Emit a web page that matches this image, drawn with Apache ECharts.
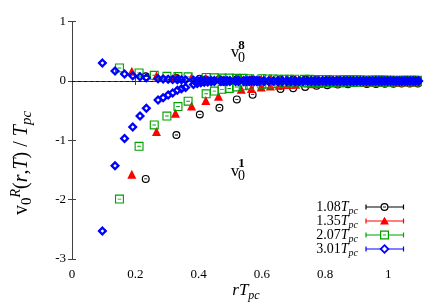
<!DOCTYPE html>
<html><head><meta charset="utf-8">
<script src="https://cdn.jsdelivr.net/npm/echarts@6/dist/echarts.min.js"></script>
<style>html,body{margin:0;padding:0;background:#fff}#c{width:436px;height:305px}</style>
</head><body><div id="c"></div>
<script>
// ---- data ----
const legendNames = ['1.08', '1.35', '2.07', '3.01'];
const xTickValues = [0, 0.2, 0.4, 0.6, 0.8, 1];
const yTickValues = [1, 0, -1, -2, -3];

// 1.08 Tpc (black)
const blackX = [0.233,0.330,0.404,0.466,0.521,0.571,0.659,0.699,0.737,0.773,0.807,0.840,0.872,0.932,0.961,0.989,1.016,1.042,1.068,1.093];
const blackV1 = [-1.65,-0.91,-0.565,-0.45,-0.31,-0.23,-0.135,-0.12,-0.10,-0.08,-0.07,-0.06,-0.055,-0.05,-0.05,-0.045,-0.045,-0.04,-0.04,-0.04];
const blackV8 = [0.08,0.05,0.04,0.03,0.03,0.025,0.02,0.02,0.02,0.015,0.015,0.015,0.01,0.01,0.01,0.01,0.01,0.01,0.01,0.01];

// 1.35 Tpc (red)
const redX = [0.189,0.267,0.327,0.378,0.423,0.463,0.535,0.567,0.598,0.627,0.655,0.681,0.707,0.756,0.779,0.802,0.824,0.845,0.866,0.886,0.926,0.945,0.964,0.982,1.018,1.035,1.052,1.069,1.086];
const redV1 = [-1.57,-0.85,-0.545,-0.42,-0.33,-0.255,-0.14,-0.125,-0.10,-0.085,-0.07,-0.06,-0.055,-0.045,-0.04,-0.035,-0.035,-0.03,-0.03,-0.025,-0.025,-0.02,-0.02,-0.02,-0.02,-0.018,-0.018,-0.016,-0.016];
const redV8 = [0.165,0.09,0.07,0.06,0.05,0.045,0.04,0.035,0.035,0.03,0.03,0.03,0.025,0.025,0.025,0.02,0.02,0.02,0.02,0.02,0.02,0.018,0.018,0.016,0.016,0.015,0.015,0.015,0.015];

// 2.07 Tpc (green)
const greenX = [0.150,0.212,0.260,0.300,0.335,0.367,0.424,0.450,0.474,0.497,0.520,0.541,0.561,0.600,0.618,0.636,0.654,0.671,0.687,0.704,0.735,0.750,0.765,0.779,0.808,0.822,0.849,0.862,0.875,0.887,0.900,0.912,0.925,0.949,0.960,0.972,0.984,0.995,1.006,1.017,1.039,1.050,1.061,1.071,1.082,1.092];
const greenV1 = [-1.99,-1.10,-0.74,-0.59,-0.43,-0.34,-0.215,-0.17,-0.14,-0.125,-0.10,-0.08,-0.07,-0.055,-0.05,-0.045,-0.04,-0.04,-0.035,-0.035,-0.03,-0.03,-0.03,-0.028,-0.025,-0.025,-0.022,-0.022,-0.02,-0.02,-0.02,-0.018,-0.018,-0.018,-0.016,-0.016,-0.016,-0.015,-0.015,-0.015,-0.014,-0.014,-0.013,-0.013,-0.012,-0.012];
const greenV8 = [0.22,0.137,0.097,0.08,0.075,0.07,0.06,0.055,0.05,0.05,0.045,0.045,0.04,0.04,0.035,0.035,0.03,0.03,0.03,0.03,0.028,0.028,0.025,0.025,0.025,0.022,0.022,0.02,0.02,0.02,0.02,0.018,0.018,0.018,0.016,0.016,0.016,0.015,0.015,0.015,0.014,0.014,0.013,0.013,0.012,0.012];

// 3.01 Tpc (blue)
const blueX = [0.096,0.136,0.166,0.192,0.215,0.235,0.272,0.288,0.304,0.318,0.333,0.346,0.359,0.384,0.396,0.407,0.418,0.429,0.440,0.450,
  0.470,0.480,0.490,0.499,0.517,0.526,0.543,0.552,0.560,0.568,0.576,0.584,0.592,
  0.607,0.622,0.637,0.651,0.665,0.679,0.692,0.705,0.718,0.731,0.744,0.756,0.768,0.780,0.792,0.803,0.815,0.826,0.837,0.848,
  0.859,0.869,0.880,0.890,0.901,0.911,0.921,0.931,0.941,0.950,0.960,0.970,0.979,0.988,0.998,1.007,1.016,1.025,1.034,1.043,
  1.052,1.060,1.069,1.078,1.086,1.095];
const blueV1 = [-2.53,-1.43,-0.97,-0.775,-0.59,-0.46,-0.32,-0.28,-0.235,-0.20,-0.155,-0.13,-0.11,-0.06,-0.04,-0.03,-0.02,-0.015,-0.012,-0.01,
  -0.01,-0.01,-0.01,-0.008,-0.008,-0.008,-0.008,-0.008,-0.007,-0.007,-0.007,-0.007,-0.006,
  -0.006,-0.006,-0.006,-0.006,-0.006,-0.006,-0.006,-0.006,-0.006,-0.006,-0.005,-0.005,-0.005,-0.005,-0.005,-0.005,-0.005,-0.005,-0.005,-0.005,
  -0.005,-0.005,-0.005,-0.005,-0.005,-0.005,-0.005,-0.005,-0.005,-0.005,-0.004,-0.004,-0.004,-0.004,-0.004,-0.004,-0.004,-0.004,-0.004,-0.004,
  -0.004,-0.004,-0.004,-0.004,-0.004,-0.004];
const blueV8 = [0.305,0.17,0.12,0.09,0.07,0.055,0.04,0.035,0.03,0.025,0.02,0.02,0.018,0.015,0.015,0.012,0.012,0.01,0.01,0.01,
  0.01,0.01,0.009,0.009,0.008,0.008,0.008,0.008,0.007,0.007,0.007,0.007,0.007,
  0.006,0.006,0.006,0.006,0.006,0.006,0.006,0.006,0.006,0.006,0.005,0.005,0.005,0.005,0.005,0.005,0.005,0.005,0.005,0.005,
  0.005,0.005,0.005,0.005,0.005,0.005,0.005,0.005,0.005,0.005,0.004,0.004,0.004,0.004,0.004,0.004,0.004,0.004,0.004,0.004,
  0.004,0.004,0.004,0.004,0.004,0.004];

// ---- styling ----
const SERIF = '"Liberation Serif", "DejaVu Serif", serif';
const colors = ['#000000', '#ff0000', '#00a000', '#0000ff'];
const circlePath = 'path://M10,0 A10,10 0 1,1 10,20 A10,10 0 1,1 10,0 Z M10,3 A7,7 0 1,0 10,17 A7,7 0 1,0 10,3 Z M6,9 L14,9 L14,11 L6,11 Z';
const squarePath = 'path://M0,0 L20,0 L20,20 L0,20 Z M2.5,2.5 L2.5,17.5 L17.5,17.5 L17.5,2.5 Z M6,9 L14,9 L14,11 L6,11 Z';
const diamondPath = 'path://M10,0 L20,10 L10,20 L0,10 Z M10,6.5 L6.5,10 L10,13.5 L13.5,10 Z';
const symbols = [circlePath, 'triangle', squarePath, diamondPath];
const sizes = [8, 9, 9, 10];

const xs = [blackX, redX, greenX, blueX];
const v1s = [blackV1, redV1, greenV1, blueV1];
const v8s = [blackV8, redV8, greenV8, blueV8];
const pairs = (a, b) => a.map((x, i) => [x, b[i]]);

const series = [];
for (let k = 0; k < 4; k++) {
  [v1s[k], v8s[k]].forEach((ys, j) => {
    const s = {
      type: 'scatter', xAxisIndex: 0, yAxisIndex: 0,
      data: pairs(xs[k], ys),
      symbol: symbols[k], symbolSize: sizes[k],
      itemStyle: { color: colors[k], opacity: 1 },
      emphasis: { disabled: true }, silent: true, animation: false
    };
    if (k === 0 && j === 0) {
      s.markLine = {
        silent: true, symbol: ['none', 'none'], label: { show: false }, animation: false,
        lineStyle: { color: '#000', type: [3, 3], width: 0.8 },
        data: [{ yAxis: 0 }]
      };
    }
    series.push(s);
  });
}

const axisLineStyle = { lineStyle: { color: '#404040', width: 1 } };
const tickStyle = { show: true, inside: true, length: 4, lineStyle: { color: '#404040' } };

// legend & annotations as graphic
const graphic = [];
const rowY = [207, 221, 235, 249];
const richLeg = {
  it: { fontStyle: 'italic', fontSize: 14, fontFamily: SERIF, lineHeight: 18 },
  sub: { fontStyle: 'italic', fontSize: 10, fontFamily: SERIF, lineHeight: 10, verticalAlign: 'bottom' }
};
const mx = 384.5;
for (let i = 0; i < 4; i++) {
  const y = rowY[i];
  const c = colors[i];
  graphic.push({
    type: 'text', x: 358, y: y, silent: true,
    style: {
      text: legendNames[i] + '{it|T}{sub|pc}',
      font: '14px ' + SERIF, fill: '#000', lineHeight: 18,
      textAlign: 'right', textVerticalAlign: 'middle', rich: richLeg
    }
  });
  graphic.push({ type: 'line', silent: true, shape: { x1: 366, y1: y, x2: 403.5, y2: y }, style: { stroke: c, lineWidth: 1.2 } });
  graphic.push({ type: 'line', silent: true, shape: { x1: 366, y1: y - 2.5, x2: 366, y2: y + 2.5 }, style: { stroke: c, lineWidth: 1.2 } });
  graphic.push({ type: 'line', silent: true, shape: { x1: 403.5, y1: y - 2.5, x2: 403.5, y2: y + 2.5 }, style: { stroke: c, lineWidth: 1.2 } });
  if (i === 0) {
    graphic.push({ type: 'circle', silent: true, shape: { cx: mx, cy: y, r: 3.4 }, style: { fill: '#fff', stroke: c, lineWidth: 1.2 } });
    graphic.push({ type: 'line', silent: true, shape: { x1: mx - 1.6, y1: y, x2: mx + 1.6, y2: y }, style: { stroke: c, lineWidth: 0.9 } });
  } else if (i === 1) {
    graphic.push({ type: 'polygon', silent: true, shape: { points: [[mx, y - 4.2], [mx + 4.5, y + 3.6], [mx - 4.5, y + 3.6]] }, style: { fill: c } });
  } else if (i === 2) {
    graphic.push({ type: 'rect', silent: true, shape: { x: mx - 3.9, y: y - 3.9, width: 7.8, height: 7.8 }, style: { fill: '#fff', stroke: c, lineWidth: 1.2 } });
    graphic.push({ type: 'line', silent: true, shape: { x1: mx - 1.6, y1: y, x2: mx + 1.6, y2: y }, style: { stroke: c, lineWidth: 0.9 } });
  } else {
    graphic.push({ type: 'polygon', silent: true, shape: { points: [[mx, y - 3.8], [mx + 3.8, y], [mx, y + 3.8], [mx - 3.8, y]] }, style: { fill: '#fff', stroke: c, lineWidth: 1.8 } });
  }
}

// v0^8 / v0^1 annotations
[[53, '8'], [171.5, '1']].forEach(([cy, sup]) => {
  graphic.push({ type: 'text', x: 235, y: cy, silent: true, style: { text: 'v', font: '17px ' + SERIF, fill: '#000', textAlign: 'center', textVerticalAlign: 'middle' } });
  graphic.push({ type: 'text', x: 241.5, y: cy + 5, silent: true, style: { text: '0', font: '14px ' + SERIF, fill: '#000', textAlign: 'center', textVerticalAlign: 'middle' } });
  graphic.push({ type: 'text', x: 241.5, y: cy - 7.5, silent: true, style: { text: sup, font: 'bold 13px ' + SERIF, fill: '#000', textAlign: 'center', textVerticalAlign: 'middle' } });
});

// axis titles
const richX = {
  i: { fontStyle: 'italic', fontSize: 17, fontFamily: SERIF, lineHeight: 22 },
  subi: { fontStyle: 'italic', fontSize: 12, fontFamily: SERIF, lineHeight: 12, verticalAlign: 'bottom' }
};
const richY = {
  r: { fontSize: 20, fontFamily: SERIF, lineHeight: 26 },
  i: { fontStyle: 'italic', fontSize: 20, fontFamily: SERIF, lineHeight: 26 },
  sub: { fontSize: 15, fontFamily: SERIF, lineHeight: 15, verticalAlign: 'bottom' },
  subi: { fontStyle: 'italic', fontSize: 15, fontFamily: SERIF, lineHeight: 15, verticalAlign: 'bottom' },
  supi: { fontStyle: 'italic', fontSize: 14, fontFamily: SERIF, lineHeight: 14, verticalAlign: 'top' }
};
graphic.push({
  type: 'text', x: 22, y: 163, rotation: Math.PI / 2, silent: true,
  style: {
    text: '{r|v}{sub|0}{supi|R}{r|(}{i|r}{r|,}{i|T}{r|) / }{i|T}{subi|pc}',
    font: '20px ' + SERIF, fill: '#000', lineHeight: 26,
    textAlign: 'center', textVerticalAlign: 'middle', rich: richY
  }
});
graphic.push({
  type: 'text', x: 246, y: 291, silent: true,
  style: {
    text: '{i|rT}{subi|pc}', font: '17px ' + SERIF, fill: '#000', lineHeight: 22,
    textAlign: 'center', textVerticalAlign: 'middle', rich: richX
  }
});

const chart = echarts.init(document.getElementById('c'), null, { renderer: 'canvas' });
chart.setOption({
  animation: false,
  backgroundColor: '#fff',
  grid: { left: 72, right: 16, top: 21.7, bottom: 46, containLabel: false },
  xAxis: [{
    type: 'value', min: 0, max: 1.1, interval: 0.2, position: 'bottom',
    axisLine: axisLineStyle, axisTick: tickStyle, splitLine: { show: false },
    axisLabel: {
      show: true, margin: 9, color: '#000', fontFamily: SERIF, fontSize: 13,
      formatter: v => (xTickValues.some(t => Math.abs(t - v) < 1e-9) ? String(+v.toFixed(1)) : '')
    }
  }, {
    type: 'value', min: 0, max: 1.1, interval: 0.2, position: 'top',
    axisLine: axisLineStyle, axisTick: tickStyle, splitLine: { show: false }, axisLabel: { show: false }
  }],
  yAxis: [{
    type: 'value', min: -3, max: 1, interval: 1, position: 'left',
    axisLine: axisLineStyle, axisTick: tickStyle, splitLine: { show: false },
    axisLabel: {
      margin: 6, color: '#000', fontFamily: SERIF, fontSize: 13,
      formatter: v => (yTickValues.includes(v) ? String(v) : '')
    }
  }, {
    type: 'value', min: -3, max: 1, interval: 1, position: 'right',
    axisLine: axisLineStyle, axisTick: tickStyle, splitLine: { show: false }, axisLabel: { show: false }
  }],
  series: series,
  graphic: graphic
});
</script>
</body></html>
